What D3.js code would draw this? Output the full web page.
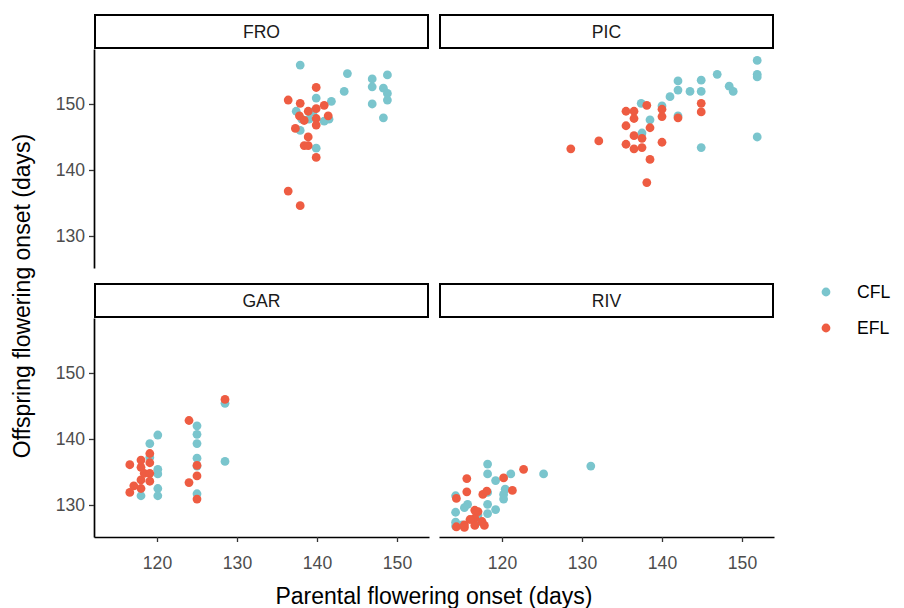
<!DOCTYPE html>
<html>
<head>
<meta charset="utf-8">
<script src="https://cdn.jsdelivr.net/npm/d3@7"></script>
<style>
  html, body { margin: 0; padding: 0; background: #fff; }
  svg { display: block; font-family: "Liberation Sans", Arial, sans-serif; }
</style>
</head>
<body>
<svg id="chart" width="904" height="608"></svg>
<script>
// ---------- data ----------
const sites = ["FRO", "PIC", "GAR", "RIV"];
const groups = ["CFL", "EFL"];
const groupColors = ["#7AC5CD", "#EE5C42"];
const xTicks = [120, 130, 140, 150];
const yTicks = [130, 140, 150];
const xTitle = "Parental flowering onset (days)";
const yTitle = "Offspring flowering onset (days)";

// [parental, offspring]
const FRO_CFL = [[137.9,155.9],[143.8,154.6],[146.9,153.8],[148.8,154.4],[146.9,152.6],[148.3,152.4],[148.8,151.6],[148.8,150.6],[143.4,151.9],[146.9,150.0],[148.3,147.9],[141.8,150.4],[139.9,150.9],[137.4,148.9],[137.9,146.0],[139.9,143.3],[138.1,147.7],[139.0,147.7],[140.9,147.4],[141.5,147.7],[139.5,148.8]];
const FRO_EFL = [[139.9,152.5],[136.4,150.6],[137.9,150.1],[139.9,149.3],[140.9,149.8],[138.9,148.9],[137.8,148.2],[141.4,148.2],[139.9,147.8],[139.9,146.8],[137.3,146.3],[138.4,147.5],[138.9,145.0],[138.4,143.7],[138.9,143.7],[139.9,141.9],[136.4,136.8],[137.9,134.6]];
const PIC_CFL = [[151.9,156.6],[151.9,154.5],[151.9,154.1],[146.9,154.5],[144.9,153.6],[142.0,153.5],[148.4,152.7],[148.9,151.9],[142.0,152.1],[143.5,151.9],[144.9,151.9],[141.0,151.1],[137.4,150.1],[140.0,149.7],[138.5,147.6],[142.0,148.2],[137.5,145.6],[151.9,145.0],[144.9,143.4]];
const PIC_EFL = [[128.6,143.2],[132.1,144.4],[135.5,148.9],[136.5,148.9],[136.5,147.8],[138.1,149.8],[135.5,146.7],[138.5,146.4],[136.5,145.2],[137.5,144.8],[135.5,143.9],[136.5,143.2],[137.5,143.4],[140.0,149.2],[140.0,148.1],[142.0,147.9],[144.9,150.1],[144.9,148.8],[140.0,144.2],[138.5,141.6],[138.1,138.1]];
const GAR_CFL = [[128.5,145.4],[125.0,142.0],[125.0,140.7],[125.0,139.3],[125.0,137.1],[125.0,135.9],[125.0,131.7],[128.5,136.6],[120.1,140.6],[119.1,139.3],[119.1,137.2],[120.1,135.4],[120.1,134.7],[120.1,132.5],[120.1,131.4],[118.0,131.4]];
const GAR_EFL = [[128.5,146.0],[124.0,142.8],[125.0,136.0],[125.0,134.4],[124.0,133.4],[125.0,130.9],[116.6,136.1],[118.0,136.8],[119.1,137.8],[119.1,136.4],[118.0,135.7],[118.4,134.8],[119.1,134.8],[118.0,133.8],[119.1,133.6],[117.1,132.9],[116.6,131.9],[118.0,132.5]];
const RIV_CFL = [[131.1,135.9],[125.2,134.7],[121.1,134.7],[118.2,136.2],[118.2,134.7],[119.2,133.7],[120.4,132.4],[120.2,131.6],[120.2,130.9],[118.2,131.9],[118.2,130.1],[119.2,129.3],[118.2,128.7],[115.7,130.1],[115.3,129.6],[117.0,128.5],[114.2,128.9],[114.2,127.4],[114.2,126.8],[114.2,131.4],[116.9,127.4],[115.0,127.0]];
const RIV_EFL = [[122.7,135.4],[120.2,134.1],[121.3,132.2],[115.6,134.0],[115.6,132.0],[114.3,131.0],[117.6,131.6],[118.1,132.1],[116.6,128.0],[117.5,127.5],[117.8,126.9],[116.6,126.9],[115.3,127.0],[115.3,126.6],[114.3,126.7],[116.0,127.8],[117.0,129.0],[116.6,129.2]];

const siteData = {
  FRO: [FRO_CFL, FRO_EFL],
  PIC: [PIC_CFL, PIC_EFL],
  GAR: [GAR_CFL, GAR_EFL],
  RIV: [RIV_CFL, RIV_EFL]
};

// ---------- layout ----------
const svg = d3.select("#chart");
const panelW = 335, panelH = 219, stripH = 34;
const colX = [94, 439];
const rowY = [49, 318]; // panel tops
const xDomain = [112.125, 154.0];
const yDomain = [125.15, 158.33];
const smallFont = 17.6, titleFont = 23;

const color = d3.scaleOrdinal().domain(groups).range(groupColors);

sites.forEach((site, i) => {
  const col = i % 2, row = Math.floor(i / 2);
  const x0 = colX[col], y0 = rowY[row];
  const x = d3.scaleLinear().domain(xDomain).range([x0, x0 + panelW]);
  const y = d3.scaleLinear().domain(yDomain).range([y0 + panelH, y0]);

  // strip
  const g = svg.append("g");
  g.append("rect")
    .attr("x", x0 + 1).attr("y", y0 - stripH)
    .attr("width", panelW - 2).attr("height", stripH - 1)
    .attr("fill", "#fff").attr("stroke", "#000").attr("stroke-width", 2);
  g.append("text")
    .attr("x", x0 + panelW / 2).attr("y", y0 - stripH / 2 + 6.2)
    .attr("text-anchor", "middle").attr("font-size", smallFont).attr("fill", "#1a1a1a")
    .text(site);

  // points
  groups.forEach((grp, gi) => {
    g.append("g").selectAll("circle")
      .data(siteData[site][gi])
      .join("circle")
      .attr("cx", d => x(d[0]))
      .attr("cy", d => y(d[1]))
      .attr("r", 4.4)
      .attr("fill", color(grp));
  });

  // y axis on left column
  if (col === 0) {
    const ya = g.append("g").attr("transform", `translate(${x0},0)`)
      .call(d3.axisLeft(y).tickValues(yTicks).tickSize(5).tickSizeOuter(0).tickPadding(4).tickFormat(d3.format("d")));
    ya.select(".domain").attr("stroke", "#000").attr("stroke-width", 1.7);
    ya.selectAll(".tick line").attr("stroke", "#333").attr("stroke-width", 1.3);
    ya.selectAll(".tick text").attr("font-size", smallFont).attr("fill", "#4D4D4D")
      .attr("font-family", "Liberation Sans, Arial, sans-serif");
  }
  // x axis on bottom row
  if (row === 1) {
    const xa = g.append("g").attr("transform", `translate(0,${y0 + panelH})`)
      .call(d3.axisBottom(x).tickValues(xTicks).tickSize(5).tickSizeOuter(0).tickPadding(15).tickFormat(d3.format("d")));
    xa.select(".domain").attr("stroke", "#000").attr("stroke-width", 1.7);
    xa.selectAll(".tick line").attr("stroke", "#333").attr("stroke-width", 1.3);
    xa.selectAll(".tick text").attr("font-size", smallFont).attr("fill", "#4D4D4D")
      .attr("font-family", "Liberation Sans, Arial, sans-serif");
  }
});

// axis titles
svg.append("text")
  .attr("x", (colX[0] + colX[1] + panelW) / 2).attr("y", 604)
  .attr("text-anchor", "middle").attr("font-size", titleFont).attr("fill", "#000")
  .text(xTitle);
svg.append("text")
  .attr("transform", `translate(30,${(rowY[0] + rowY[1] + panelH) / 2 + 3}) rotate(-90)`)
  .attr("text-anchor", "middle").attr("font-size", titleFont).attr("fill", "#000")
  .text(yTitle);

// legend
const legend = svg.append("g");
groups.forEach((grp, i) => {
  const ly = 292 + i * 36;
  legend.append("circle").attr("cx", 826).attr("cy", ly).attr("r", 4.4).attr("fill", color(grp));
  legend.append("text").attr("x", 857).attr("y", ly + 6.2)
    .attr("font-size", smallFont).attr("fill", "#000").text(grp);
});
</script>
</body>
</html>
